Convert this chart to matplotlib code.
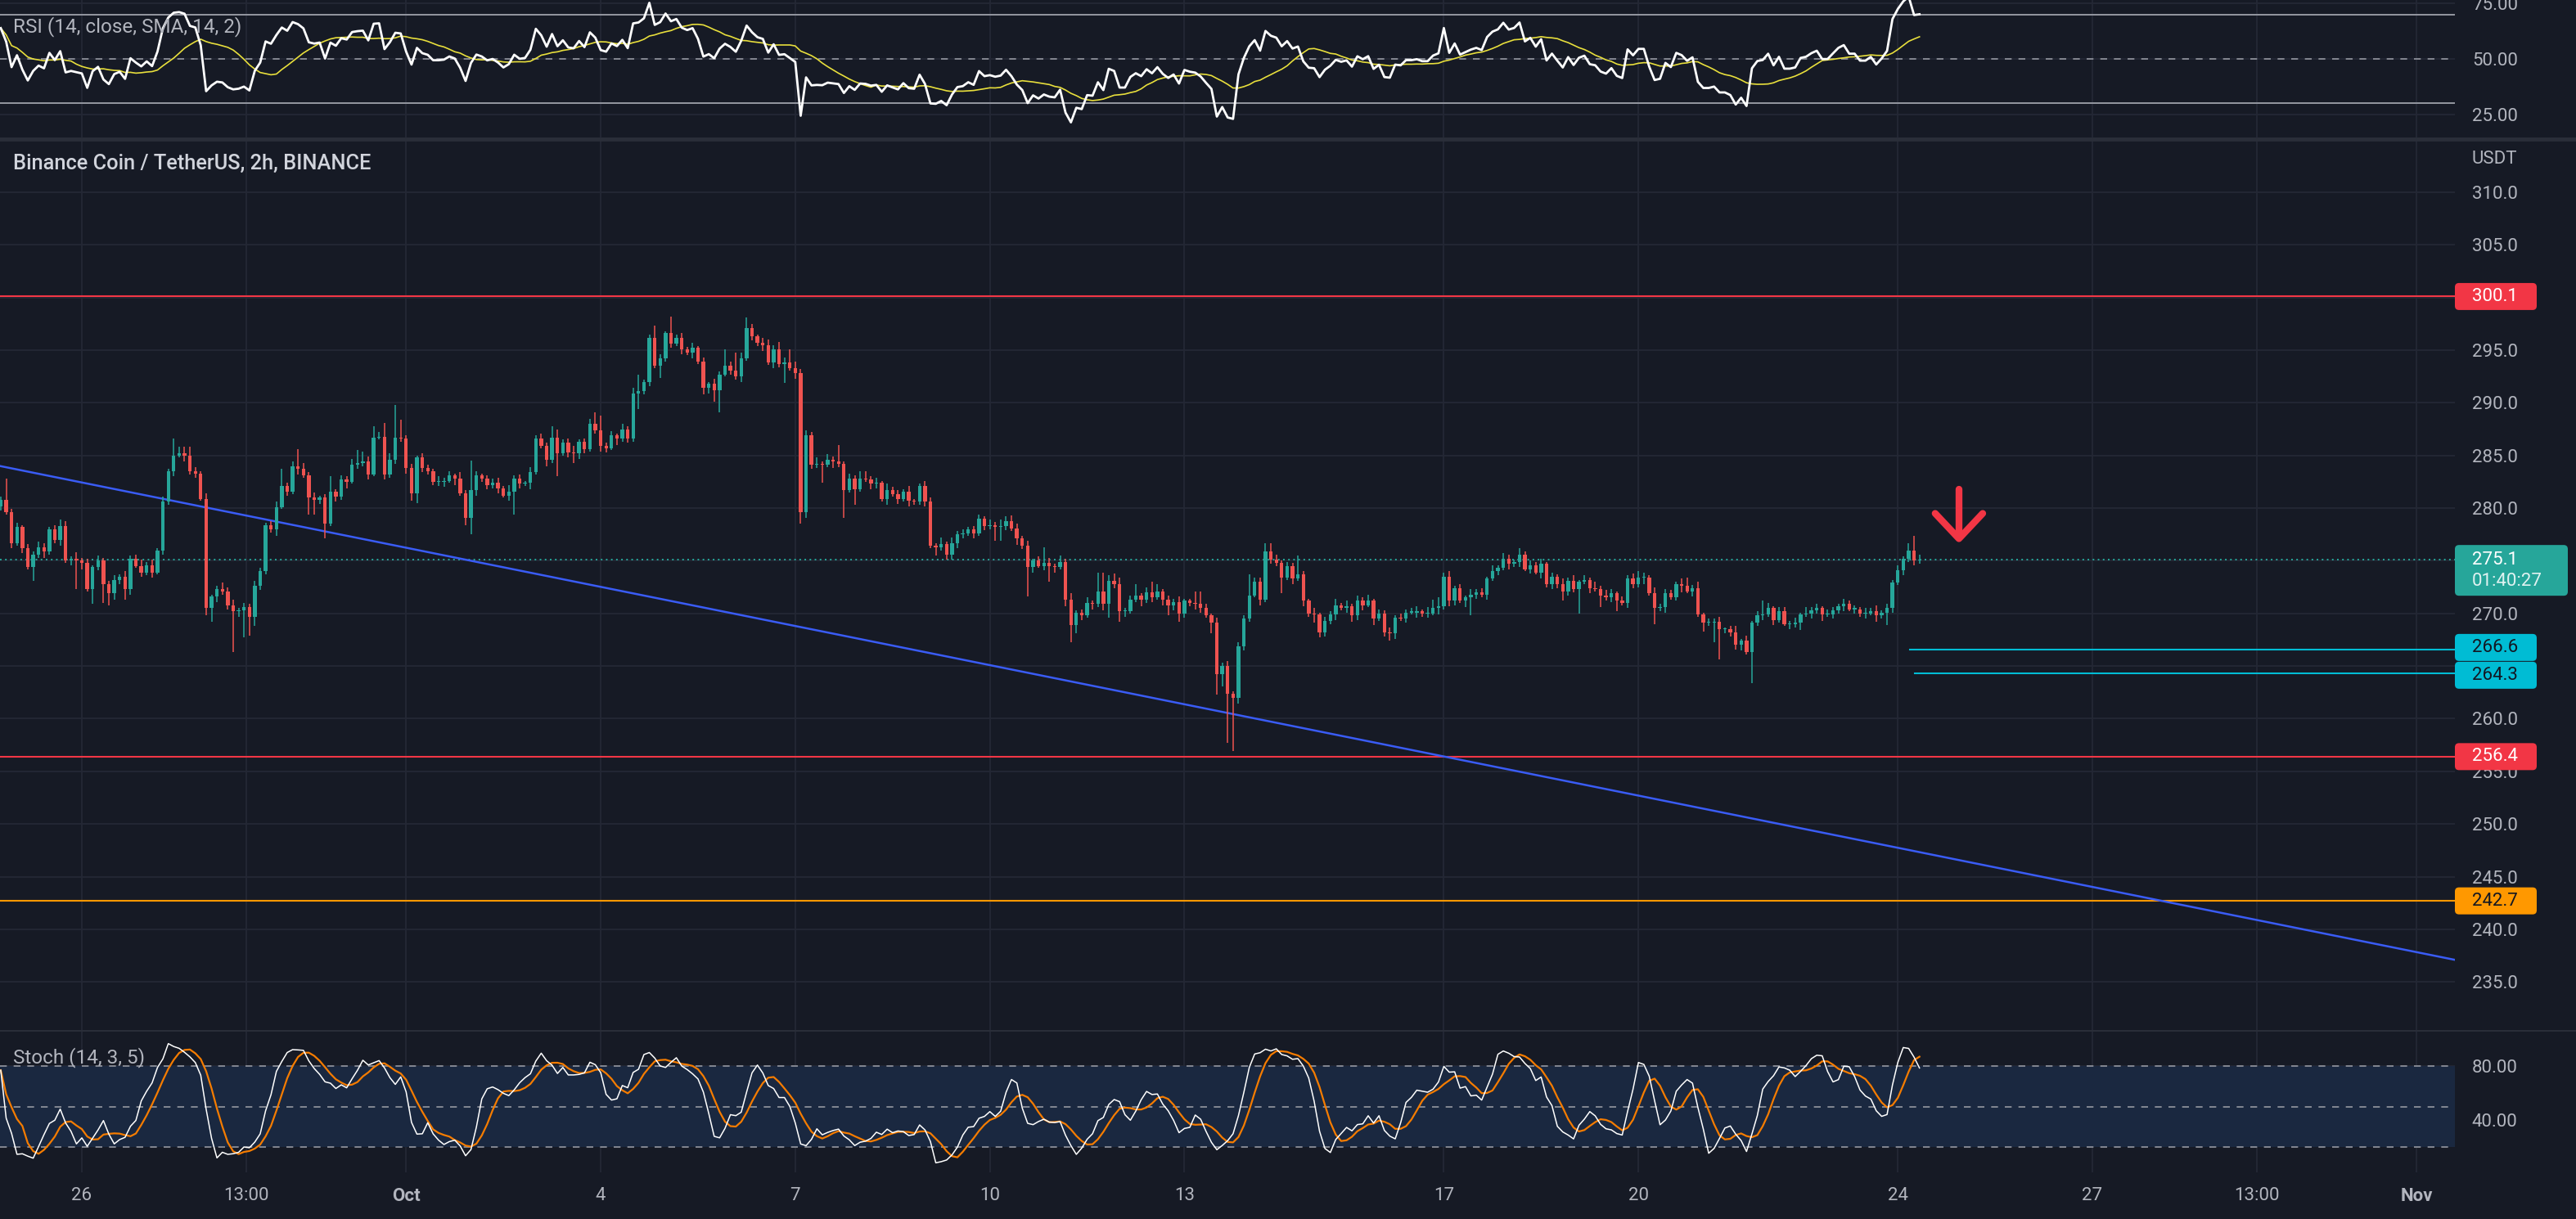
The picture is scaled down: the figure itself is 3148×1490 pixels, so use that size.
import numpy as np
import pandas as pd
import matplotlib
matplotlib.use("Agg")
import matplotlib.pyplot as plt
from matplotlib.patches import FancyBboxPatch
from matplotlib.transforms import IdentityTransform

plt.rcParams['font.family'] = ['Roboto', 'DejaVu Sans']

# ---------------- data ----------------
title_main = "Binance Coin / TetherUS, 2h, BINANCE"
title_rsi = "RSI (14, close, SMA, 14, 2)"
title_stoch = "Stoch (14, 3, 5)"

first_open = 280.2
closes = [
    280.8, 279.6, 276.7, 278.2, 276.2, 274.4, 275.6, 276.3, 275.9, 278.0,
    277.0, 278.3, 275.0, 275.2, 275.0, 274.8, 272.3, 274.4, 275.0, 272.8,
    271.9, 273.2, 273.5, 272.3, 275.2, 274.5, 273.9, 274.6, 273.9, 276.0,
    280.6, 283.5, 285.0, 285.2, 285.0, 283.5, 283.3, 280.9, 270.5, 271.6,
    272.3, 272.1, 270.8, 270.2, 270.3, 270.6, 269.7, 272.6, 274.0, 278.4,
    278.0, 280.1, 282.1, 281.6, 284.0, 283.7, 283.1, 281.0, 280.8, 281.0,
    278.5, 281.6, 281.1, 282.7, 282.5, 284.1, 284.3, 284.4, 283.2, 286.7,
    286.8, 283.2, 284.6, 286.7, 286.6, 283.8, 281.4, 284.8, 283.8, 283.5,
    282.5, 282.5, 282.6, 283.1, 282.8, 281.4, 279.1, 281.7, 283.1, 282.8,
    282.2, 282.4, 281.9, 281.2, 281.6, 282.8, 282.3, 282.4, 283.4, 286.6,
    285.9, 284.6, 286.7, 285.2, 286.2, 285.3, 285.2, 286.3, 285.6, 288.0,
    287.4, 285.9, 285.7, 286.9, 286.6, 287.5, 286.6, 290.9, 291.1, 292.0,
    296.2, 293.5, 294.2, 296.6, 295.6, 296.2, 295.1, 294.8, 295.2, 293.9,
    291.4, 291.8, 291.2, 292.7, 293.5, 293.1, 292.5, 294.2, 297.1, 296.3,
    295.7, 295.5, 293.8, 295.1, 293.7, 293.8, 293.3, 292.8, 279.6, 286.9,
    284.1, 284.2, 284.1, 284.6, 284.4, 284.2, 281.7, 282.8, 281.8, 282.8,
    282.7, 282.3, 282.4, 280.9, 281.7, 281.3, 280.9, 281.6, 280.7, 280.6,
    282.1, 280.6, 276.4, 276.3, 276.6, 275.6, 276.7, 277.5, 277.6, 278.0,
    277.6, 279.0, 278.3, 278.4, 278.2, 278.3, 278.8, 278.1, 277.1, 276.4,
    274.4, 275.0, 274.5, 274.8, 274.5, 274.4, 274.9, 271.3, 268.9, 270.1,
    269.8, 271.0, 270.9, 272.1, 270.9, 273.1, 272.8, 270.2, 270.2, 271.3,
    271.7, 271.3, 272.0, 271.5, 272.1, 271.3, 270.8, 271.1, 270.0, 271.2,
    271.0, 270.9, 270.5, 269.8, 269.1, 264.2, 265.0, 262.4, 262.0, 266.9,
    269.5, 271.7, 273.0, 271.3, 275.9, 275.1, 274.8, 273.4, 274.5, 273.3,
    273.7, 271.2, 270.0, 269.9, 268.2, 269.3, 269.9, 270.8, 270.5, 270.7,
    269.8, 271.2, 270.8, 271.2, 269.5, 270.0, 268.2, 268.1, 269.6, 269.5,
    270.1, 270.1, 270.2, 270.0, 270.0, 270.5, 270.7, 273.5, 271.2, 272.4,
    271.2, 271.5, 271.8, 272.0, 271.8, 273.3, 274.0, 274.3, 275.2, 274.7,
    274.9, 275.6, 274.2, 274.6, 273.9, 274.7, 272.8, 273.5, 272.8, 272.1,
    273.1, 272.3, 273.0, 273.2, 272.4, 272.3, 271.7, 271.5, 271.9, 271.2,
    271.0, 273.3, 272.8, 273.4, 273.4, 271.9, 270.5, 270.6, 271.9, 271.5,
    272.8, 272.6, 272.1, 272.4, 269.9, 269.1, 269.1, 269.2, 268.5, 268.5,
    268.2, 267.0, 267.4, 266.3, 269.1, 269.8, 269.9, 270.5, 269.4, 270.2,
    269.0, 269.0, 269.1, 269.9, 270.0, 270.3, 270.5, 269.9, 269.9, 270.3,
    270.7, 270.9, 270.4, 270.4, 270.0, 270.0, 270.2, 269.8, 270.1, 270.5,
    272.9, 274.1, 275.2, 276.0, 275.0, 275.1,
]

# ordinary wick lengths in tenths of a USDT, one digit per candle
wick_up = ("3534243542" "4352634253" "3425346352" "5243634252" "3645243532"
           "4253426352" "3524364253" "4362534243" "2534263542" "3452634253"
           "4325346235" "2634253542" "3542634252" "4253542634" "2534352643"
           "3625342534" "4352634252" "2543625342" "3425362543" "5243524362"
           "3524352634" "4253624352" "2634253524" "3542635243" "4325243625"
           "2536243524" "3452624352" "4253426354" "2634352425" "3524263542"
           "4352526343" "2543624352" "3625243524" "4352634253" "2534253624"
           "352435")
wick_dn = ("4253524363" "3524362534" "2643524352" "4352634253" "5342536243"
           "3624352534" "4253624352" "2534352643" "3452624353" "4352534262"
           "2634253542" "3542634253" "4253425362" "2536243524" "3625342534"
           "4352634252" "2543625343" "3425362542" "5243524363" "3524352634"
           "4253624352" "2634253524" "3542635243" "4325243625" "2536243524"
           "3452624352" "4253426354" "2634352425" "3524263542" "4352526343"
           "2543624352" "3625243524" "4352634253" "2534253624" "3524352634"
           "425343")

# long wicks: candle number (1 = leftmost) -> price
long_highs = {
    2: 282.8, 12: 278.9, 33: 286.6, 34: 285.8, 36: 285.8, 52: 280.6, 53: 283.7,
    56: 285.6, 62: 283.0, 67: 285.5, 68: 285.4, 70: 287.8, 72: 288.1, 74: 289.8,
    75: 288.4, 88: 284.5, 101: 287.1, 103: 287.8, 104: 287.5, 111: 289.1,
    112: 288.8, 119: 292.7, 122: 297.3, 125: 298.2, 135: 295.1, 137: 294.8,
    139: 298.1, 143: 296.0, 145: 295.8, 147: 295.1, 150: 287.4, 156: 286.0,
    160: 283.5, 161: 283.5, 182: 279.4, 187: 279.2, 194: 276.3, 197: 275.5,
    204: 273.9, 205: 273.9, 206: 273.6, 207: 273.8, 211: 272.8, 214: 273.0,
    215: 272.8, 222: 272.1, 223: 272.1, 232: 273.7, 234: 273.4, 235: 276.7,
    236: 276.7, 241: 275.5, 266: 271.3, 267: 271.5, 268: 273.9, 271: 272.8,
    304: 274.0, 311: 273.0, 313: 273.4, 327: 271.2, 354: 276.7, 355: 277.4,
}
long_lows = {
    7: 273.1, 12: 276.4, 15: 272.3, 18: 270.9, 20: 271.0, 21: 270.8, 24: 271.3,
    39: 269.8, 40: 269.2, 44: 266.3, 46: 267.7, 47: 267.9, 48: 268.8, 52: 277.4,
    58: 279.4, 59: 279.4, 61: 277.1, 77: 280.7, 78: 280.5, 87: 278.4, 88: 277.5,
    96: 279.4, 104: 283.0, 107: 284.3, 118: 286.3, 119: 289.4, 123: 292.4,
    131: 290.8, 133: 290.1, 134: 289.1, 146: 291.9, 149: 278.5, 150: 279.1,
    153: 282.4, 157: 279.1, 159: 280.3, 169: 280.2, 174: 275.5, 176: 275.1,
    177: 275.1, 185: 276.9, 186: 276.9, 191: 271.6, 195: 273.0, 199: 267.3,
    200: 268.1, 206: 269.6, 208: 269.2, 217: 269.8, 219: 269.2, 225: 268.1,
    226: 262.3, 227: 263.1, 228: 257.7, 229: 256.9, 230: 261.4, 238: 271.9,
    244: 269.1, 245: 267.7, 248: 269.4, 251: 269.2, 258: 267.4, 273: 269.8,
    290: 271.2, 293: 270.0, 297: 270.6, 300: 270.2, 307: 269.0, 316: 268.3,
    318: 267.3, 319: 265.6, 322: 266.6, 324: 266.1, 325: 263.4, 334: 268.4,
    350: 268.9,
}

first_candle = -15            # 2h candles counted from Sep 26 00:00
x_labels = ["26", "13:00", "Oct", "4", "7", "10", "13", "17", "20", "24", "27", "13:00", "Nov"]
x_label_days = [0, 2.54, 5, 8, 11, 14, 17, 21, 24, 28, 31, 33.54, 36]
x_label_bold = ["Oct", "Nov"]

red_levels = [300.1, 256.4]
orange_level = 242.7
cyan_levels = [266.6, 264.3]
last_price = 275.1
countdown = "01:40:27"
price_grid = [235, 240, 245, 250, 255, 260, 265, 270, 275, 280, 285, 290, 295, 300, 305, 310]
price_tick_labels = [235, 240, 245, 250, 255, 260, 270, 280, 285, 290, 295, 305, 310]
rsi_ticks = [25, 50, 75]
stoch_ticks = [40, 80]
rsi_seed = 62.0              # RSI at the left edge

# ---------------- style / layout ----------------
W, H = 3148, 1490
DPI = 100
BG = "#161a25"
GRID = "#242835"
TXT = "#b2b5be"
UP = "#26a69a"
DN = "#ef5350"
RED = "#f23645"
ORANGE = "#ff9800"
CYAN = "#00bcd4"
BLUE = "#3a5cf5"
PX_PER_CANDLE = 6.605
X0_PX = 100.0  # pixel of Sep 26 00:00
XMIN = (0 - X0_PX) / PX_PER_CANDLE
XMAX = (3000 - X0_PX) / PX_PER_CANDLE

fig = plt.figure(figsize=(W / DPI, H / DPI), dpi=DPI, facecolor=BG)


def rect(x0, ytop, x1, ybot):
    return [x0 / W, 1 - ybot / H, (x1 - x0) / W, (ybot - ytop) / H]


ax_rsi = fig.add_axes(rect(0, 0, 3000, 168))
ax = fig.add_axes(rect(0, 172, 3000, 1259))
ax_st = fig.add_axes(rect(0, 1261, 3000, 1433))

tick_k = [d * 12 for d in x_label_days]
for a in (ax_rsi, ax, ax_st):
    a.set_facecolor(BG)
    for s in a.spines.values():
        s.set_visible(False)
    a.set_xlim(XMIN, XMAX)
    a.yaxis.tick_right()
    a.tick_params(axis='y', length=0, pad=15, labelsize=16, labelcolor=TXT)
    a.tick_params(axis='x', length=0, labelbottom=False)
    a.set_xticks(tick_k)
    a.grid(True, axis='x', color=GRID, lw=1.3, zorder=0)
    a.set_axisbelow(True)

# separators
fig.add_artist(plt.Line2D([0, 1], [1 - 170 / H] * 2, transform=fig.transFigure, color="#2a2e39", lw=3.5))
fig.add_artist(plt.Line2D([0, 1], [1 - 1260 / H] * 2, transform=fig.transFigure, color="#2a2e39", lw=1.5))

# ---------------- candles ----------------
c = np.array(closes)
n = len(c)
o = np.r_[first_open, c[:-1]]
up = np.array([int(ch) for ch in wick_up]) / 10.0
dn = np.array([int(ch) for ch in wick_dn]) / 10.0
hi = np.maximum(o, c) + up
lo = np.minimum(o, c) - dn
for num, v in long_highs.items():
    hi[num - 1] = max(v, o[num - 1], c[num - 1])
for num, v in long_lows.items():
    lo[num - 1] = min(v, o[num - 1], c[num - 1])
k = np.arange(n) + first_candle
bull = c >= o
colors = np.where(bull, UP, DN)

ax.set_ylim(310 - (1259 - 235) / 12.87, 310 + (235 - 172) / 12.87)
for g in price_grid:
    ax.axhline(g, color=GRID, lw=1.3, zorder=0)
ax.set_yticks(price_tick_labels)
ax.set_yticklabels([f"{t:.1f}" for t in price_tick_labels])

ax.vlines(k, lo, hi, colors=colors, lw=1.1, zorder=3)
body_h = np.maximum(np.abs(c - o), 0.09)
ax.bar(k, body_h, bottom=np.minimum(o, c), width=0.66, color=colors, zorder=4, linewidth=0)

# levels
for lv in red_levels:
    ax.axhline(lv, color=RED, lw=1.5, zorder=2)
ax.axhline(orange_level, color=ORANGE, lw=1.5, zorder=2)
ray_start = [338.2, 339.1]
for lv, xs in zip(cyan_levels, ray_start):
    ax.plot([xs, XMAX], [lv, lv], color=CYAN, lw=1.5, zorder=2)
ax.axhline(last_price, color=UP, lw=1.4, ls=(0, (1, 2.2)), zorder=2)

# trend line
trend_k = [XMIN, XMAX]
trend_p = [284.0, 237.1]
ax.plot(trend_k, trend_p, color=BLUE, lw=1.8, zorder=2)

# arrow annotation
ax_x, ay_top, ay_tip, wing_dx, wing_y = 347.3, 281.8, 277.1, 4.4, 279.5
ax.plot([ax_x, ax_x], [ay_top, ay_tip + 0.15], color=RED, lw=6, solid_capstyle='round', zorder=6)
ax.plot([ax_x - wing_dx, ax_x, ax_x + wing_dx], [wing_y, ay_tip, wing_y], color=RED, lw=6,
        solid_capstyle='round', solid_joinstyle='round', zorder=6)

# ---------------- RSI ----------------
delta = np.diff(np.r_[first_open, c])
gain = np.clip(delta, 0, None)
loss = np.clip(-delta, 0, None)
ag, al = 0.9 * rsi_seed / 100, 0.9 * (100 - rsi_seed) / 100
rsi = np.empty(n)
for i in range(n):
    ag = (ag * 13 + gain[i]) / 14
    al = (al * 13 + loss[i]) / 14
    rsi[i] = 100 - 100 / (1 + ag / al)
rsi_ma = pd.Series(rsi).rolling(14, min_periods=1).mean().values

ax_rsi.set_ylim(14.7, 76.5)
ax_rsi.set_yticks(rsi_ticks)
ax_rsi.set_yticklabels([f"{t:.2f}" for t in rsi_ticks])
ax_rsi.grid(True, axis='y', color=GRID, lw=1.3, zorder=0)
ax_rsi.axhline(70, color="#9598a1", lw=1.4, zorder=2)
ax_rsi.axhline(30, color="#9598a1", lw=1.4, zorder=2)
ax_rsi.axhline(50, color="#9598a1", lw=1.2, ls=(0, (5, 5)), zorder=2)
ax_rsi.plot(k, rsi_ma, color="#e8df3c", lw=1.2, zorder=3)
ax_rsi.plot(k, rsi, color="white", lw=2.0, zorder=4)

# ---------------- Stochastic ----------------
Hs, Ls, Cs = pd.Series(hi), pd.Series(lo), pd.Series(c)
hh = Hs.rolling(14, min_periods=1).max()
ll = Ls.rolling(14, min_periods=1).min()
raw = 100 * (Cs - ll) / (hh - ll)
K = raw.rolling(3, min_periods=1).mean()
D = K.rolling(5, min_periods=1).mean()

ax_st.set_ylim(1.2, 105.5)
ax_st.set_yticks(stoch_ticks)
ax_st.set_yticklabels([f"{t:.2f}" for t in stoch_ticks])
ax_st.grid(True, axis='y', color=GRID, lw=1.3, zorder=0)
ax_st.axhspan(20, 80, color="#1a2840", zorder=1, lw=0)
for lv in (80, 50, 20):
    ax_st.axhline(lv, color="#9598a1", lw=1.2, ls=(0, (5, 5)), zorder=2)
ax_st.plot(k, D, color="#f57c00", lw=1.6, zorder=3)
ax_st.plot(k, K, color="white", lw=1.1, zorder=4)

ax_st.tick_params(axis='x', labelbottom=True, pad=13, labelsize=16, labelcolor=TXT)
ax_st.set_xticklabels(x_labels)
for t in ax_st.get_xticklabels():
    if t.get_text() in x_label_bold:
        t.set_fontweight('bold')

# ---------------- texts & price labels ----------------
IT = IdentityTransform()


def ftext(x, ytop, s, **kw):
    fig.text(x, H - ytop, s, transform=IT, **kw)


ftext(16, 33, title_rsi, fontsize=17.5, color=TXT, va='center', ha='left')
ftext(16, 200, title_main, fontsize=18.3, color="#d1d4dc", va='center', ha='left', fontweight='medium')
ftext(16, 1293, title_stoch, fontsize=17.5, color=TXT, va='center', ha='left')
ftext(3021, 195, "USDT", fontsize=16, color=TXT, va='center', ha='left')

fig.canvas.draw()


def py(p):
    return ax.transData.transform((0, p))[1]


def label(yc, text, fc, tc, w=100, h=33):
    fig.add_artist(FancyBboxPatch((3000, yc - h / 2), w, h, boxstyle="round,pad=0,rounding_size=5",
                                  fc=fc, ec='none', transform=IT, zorder=5))
    fig.text(3021, yc, text, transform=IT, color=tc, fontsize=16, va='center', ha='left', zorder=6)


for lv in red_levels:
    label(py(lv), f"{lv:.1f}", RED, "white")
label(py(orange_level), f"{orange_level:.1f}", ORANGE, "#131722")
yc1, yc2 = py(cyan_levels[0]), py(cyan_levels[1])
if yc1 - yc2 < 34:
    mid = (yc1 + yc2) / 2
    yc1, yc2 = mid + 17, mid - 17
label(yc1, f"{cyan_levels[0]:.1f}", CYAN, "#131722")
label(yc2, f"{cyan_levels[1]:.1f}", CYAN, "#131722")

# last price + countdown
yl = py(last_price)
fig.add_artist(FancyBboxPatch((3000, yl - 44), 138, 62, boxstyle="round,pad=0,rounding_size=5",
                              fc=UP, ec='none', transform=IT, zorder=5))
fig.text(3021, yl, f"{last_price:.1f}", transform=IT, color="white", fontsize=16, va='center', ha='left', zorder=6)
fig.text(3021, yl - 26, countdown, transform=IT, color="#e0f2f1", fontsize=16, va='center', ha='left', zorder=6)

fig.savefig("out.png", dpi=DPI, facecolor=BG)
